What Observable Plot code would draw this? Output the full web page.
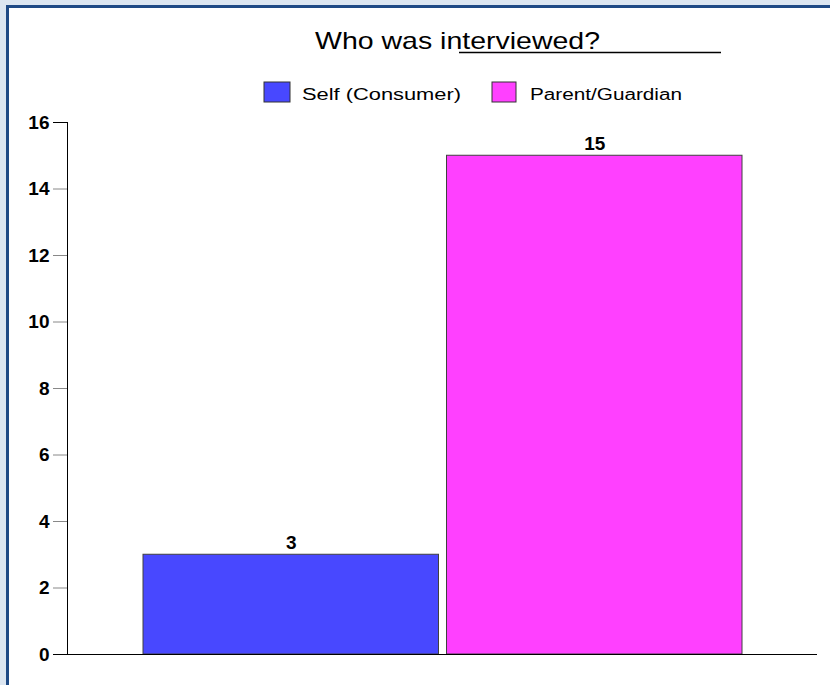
<!DOCTYPE html>
<html>
<head>
<meta charset="utf-8">
<script src="https://cdn.jsdelivr.net/npm/d3@7"></script>
<script src="https://cdn.jsdelivr.net/npm/@observablehq/plot@0.6"></script>
<style>
  html, body { margin: 0; padding: 0; }
  body { width: 830px; height: 685px; overflow: hidden; position: relative; background: #dce6f1; font-family: "Liberation Sans", Arial, sans-serif; }
  #frame { position: absolute; left: 6px; top: 5px; width: 900px; height: 800px; background: #fff; border-left: 3px solid #1f4a85; border-top: 3px solid #1f4a85; }
  #header { position: absolute; left: 0; top: 0; }
  #chart { position: absolute; left: 0; top: 0; }
</style>
</head>
<body>
<div id="frame"></div>
<svg id="header" width="830" height="115" xmlns="http://www.w3.org/2000/svg"></svg>
<div id="chart"></div>
<script>
// ---- data ----
const categories = ["Self (Consumer)", "Parent/Guardian"];
const counts = [3, 15];
const colors = ["#4848ff", "#ff40ff"];
const yTicks = [0, 2, 4, 6, 8, 10, 12, 14, 16];
const titleText = "Who was interviewed?";

const data = categories.map((c, i) => ({who: c, count: counts[i]}));

// ---- header: title + legend (outside the plot svg) ----
const ns = "http://www.w3.org/2000/svg";
const header = document.getElementById("header");
function el(tag, attrs, text) {
  const e = document.createElementNS(ns, tag);
  for (const k in attrs) e.setAttribute(k, attrs[k]);
  if (text != null) e.textContent = text;
  header.appendChild(e);
  return e;
}
el("text", {x: 315, y: 49, "font-size": 24, "font-family": "Liberation Sans, Arial, sans-serif", fill: "#000", textLength: 285, lengthAdjust: "spacingAndGlyphs"}, titleText);
el("line", {x1: 459, x2: 721, y1: 52.5, y2: 52.5, stroke: "#000", "stroke-width": 1.5});

const legendItems = [
  {sx: 264, sw: 26, tx: 302, tl: 159},
  {sx: 492, sw: 24, tx: 530, tl: 152}
];
legendItems.forEach((it, i) => {
  el("rect", {x: it.sx, y: 82, width: it.sw, height: 20, fill: colors[i], stroke: "#333", "stroke-width": 1});
  el("text", {x: it.tx, y: 99.5, "font-size": 16, "font-family": "Liberation Sans, Arial, sans-serif", fill: "#000", textLength: it.tl, lengthAdjust: "spacingAndGlyphs"}, categories[i]);
});

// ---- chart ----
const chart = Plot.plot({
  width: 830,
  height: 685,
  marginLeft: 67,
  marginRight: 13,
  marginTop: 122,
  marginBottom: 31,
  style: {background: "transparent", fontFamily: "Liberation Sans, Arial, sans-serif", color: "#000"},
  x: {type: "band", domain: categories, range: [143, 742], paddingInner: 0.0264, paddingOuter: 0, round: false, axis: null},
  y: {domain: [0, 16], axis: null, label: null},
  color: {domain: categories, range: colors},
  marks: [
    Plot.barY(data, {x: "who", y: "count", fill: "who", stroke: "#404040", strokeWidth: 1}),
    Plot.text(data, {x: "who", y: "count", text: d => String(d.count), dy: -6, lineAnchor: "bottom", fontWeight: "bold", fontSize: 19, fill: "#000"}),
    Plot.axisY({ticks: yTicks, tickSize: 14, tickPadding: 4, stroke: "#888", fontSize: 19, fontWeight: "bold", fill: "#000", label: null}),
    Plot.axisY({ticks: [0, 16], tickSize: 14, stroke: "#000", tickFormat: () => "", label: null}),
    Plot.frame({anchor: "left", stroke: "#000"}),
    Plot.ruleY([0], {stroke: "#000", strokeWidth: 1.2})
  ]
});
document.getElementById("chart").appendChild(chart);
</script>
</body>
</html>
